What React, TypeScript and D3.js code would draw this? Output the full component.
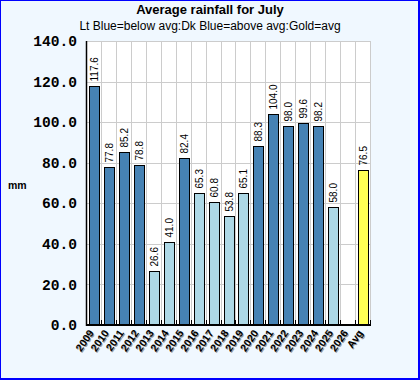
import React from "react";
import * as d3 from "d3";

const categories = ["2009","2010","2011","2012","2013","2014","2015","2016","2017","2018","2019","2020","2021","2022","2023","2024","2025","2026","Avg"];
const rainfall: (number | null)[] = [117.6,77.8,85.2,78.8,26.6,41.0,82.4,65.3,60.8,53.8,65.1,88.3,104.0,98.0,99.6,98.2,58.0,null,76.5];
const yTicks = [0,20,40,60,80,100,120,140];
const average = 76.5;

const W = 420, H = 380;
const M = { left: 87, right: 371, top: 41, bottom: 325 };

export default function App() {
  const x = d3.scaleBand<string>().domain(categories).range([M.left, M.right]).padding(0);
  const y = d3.scaleLinear().domain([0, 140]).range([M.bottom, M.top]);
  const bw = x.bandwidth();
  const color = (c: string, v: number) =>
    c === "Avg" ? "#ffff55" : v > average ? "#4682b4" : "#add8e6";
  const sans = "'Liberation Sans', Arial, sans-serif";
  return (
    <div>
      <style>{`body{margin:0}`}</style>
      <svg width={W} height={H} style={{ display: "block" }}>
        <rect x={0} y={0} width={W} height={H} fill="#0000ff" />
        <rect x={1} y={1} width={W - 3} height={H - 3} fill="#f0f8ff" />
        <text x={210} y={13.5} textAnchor="middle" fontFamily={sans} fontWeight="bold" fontSize={13}>Average rainfall for July</text>
        <text x={210} y={30} textAnchor="middle" fontFamily={sans} fontSize={12}>Lt Blue=below avg:Dk Blue=above avg:Gold=avg</text>
        <text x={8} y={189} fontFamily={sans} fontWeight="bold" fontSize={10.5}>mm</text>
        <rect x={M.left} y={M.top} width={M.right - M.left} height={M.bottom - M.top} fill="#ffffff" />
        {yTicks.map((t) => (
          <line key={"h" + t} x1={M.left} x2={M.right} y1={Math.round(y(t)) + 0.5} y2={Math.round(y(t)) + 0.5} stroke="#cccccc" />
        ))}
        {categories.map((c) => (
          <line key={"v" + c} x1={Math.round(x(c)! + bw) - 0.5} x2={Math.round(x(c)! + bw) - 0.5} y1={M.top} y2={M.bottom} stroke="#cccccc" />
        ))}
        {yTicks.map((t) => (
          <text key={"yl" + t} x={77} y={y(t)} dy="0.35em" textAnchor="end" fontFamily="'Liberation Mono', 'Courier New', monospace" fontWeight="bold" fontSize={14.6}>{t.toFixed(1)}</text>
        ))}
        {categories.map((c, i) => {
          const v = rainfall[i];
          if (v == null) return null;
          const x0 = Math.round(x(c)! + 2) + 0.5;
          const yt = Math.round(y(v)) + 0.5;
          return (
            <g key={"b" + c}>
              <rect x={x0} y={yt} width={10} height={M.bottom - yt} fill={color(c, v)} stroke="#000" strokeWidth={1} />
              <text transform={`translate(${x0 + 5},${yt - 5}) rotate(-90)`} dy="0.35em" fontFamily={sans} fontSize={10}>{v.toFixed(1)}</text>
            </g>
          );
        })}
        {categories.map((c) => (
          <line key={"t" + c} x1={Math.round(x(c)! + bw) - 0.5} x2={Math.round(x(c)! + bw) - 0.5} y1={M.bottom - 5} y2={M.bottom} stroke="#000" />
        ))}
        <line x1={M.left - 0.5} x2={M.left - 0.5} y1={M.top} y2={M.bottom + 1} stroke="#000" strokeWidth={1.5} />
        <line x1={M.left - 1} x2={M.right} y1={M.bottom} y2={M.bottom} stroke="#000" strokeWidth={2} />
        {categories.map((c) => {
          const cx = x(c)! + bw / 2;
          return (
            <g key={"xl" + c} fontFamily={sans} fontWeight="bold" fontSize={10.5} textAnchor="end">
              <text transform={`translate(${cx + 1},${M.bottom + 9}) rotate(-55)`} fill="#999999">{c}</text>
              <text transform={`translate(${cx},${M.bottom + 8}) rotate(-55)`} fill="#000">{c}</text>
            </g>
          );
        })}
      </svg>
    </div>
  );
}
